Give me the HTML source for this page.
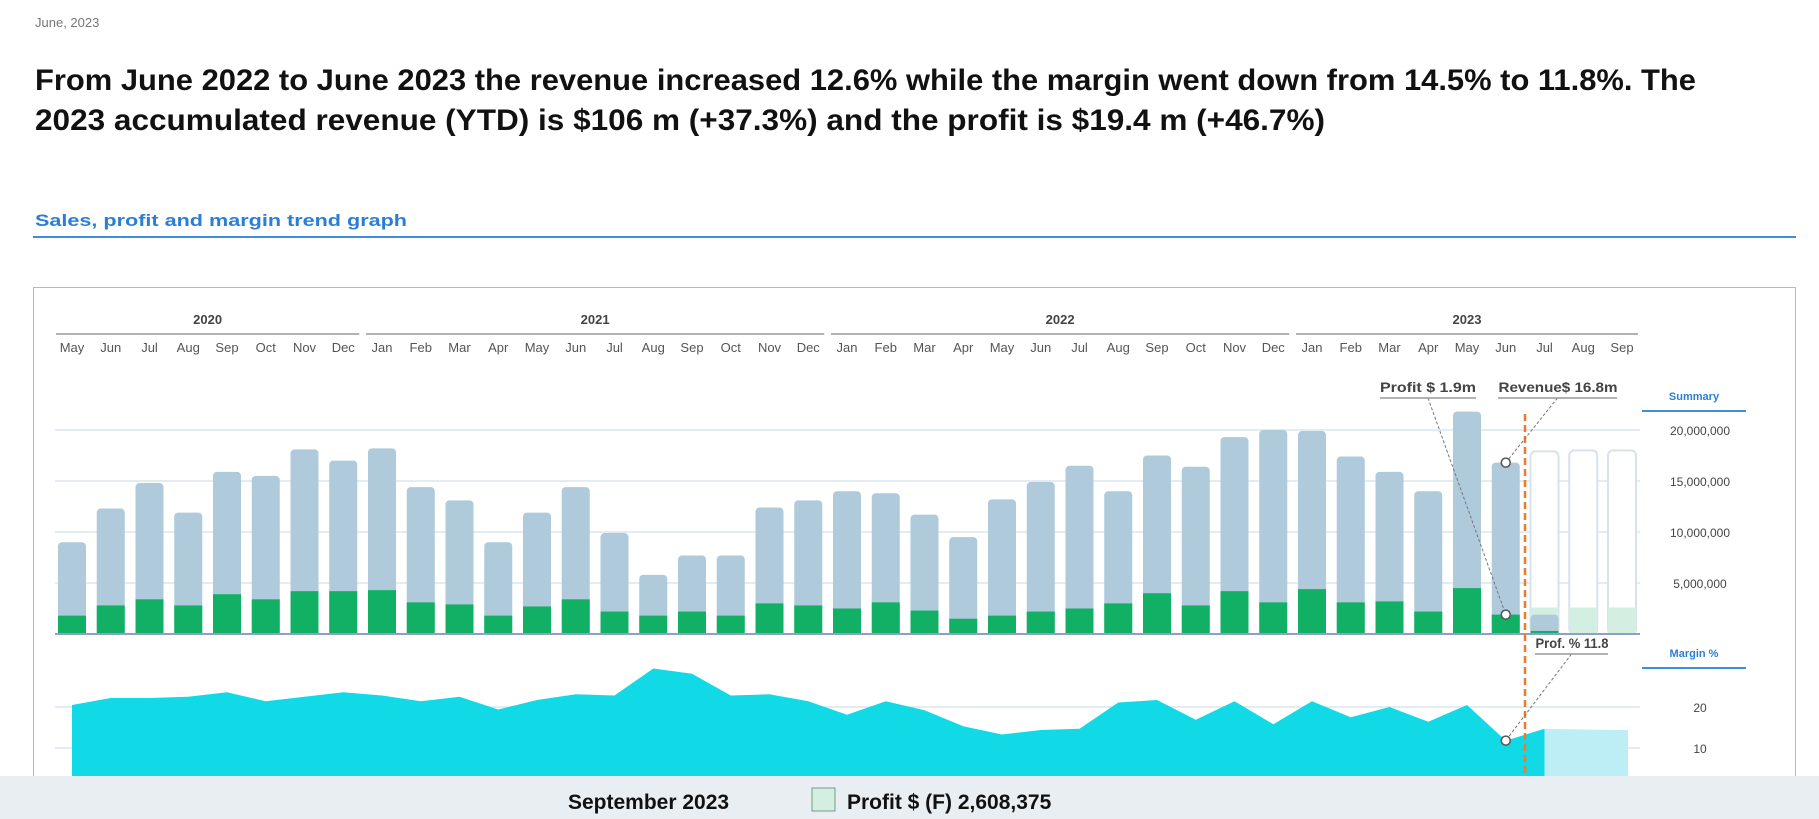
<!DOCTYPE html>
<html><head><meta charset="utf-8"><style>
html,body{margin:0;padding:0;background:#fff;width:1819px;height:819px;overflow:hidden}
svg{display:block;font-family:"Liberation Sans",sans-serif}
</style></head><body>
<svg id="c" width="1819" height="819" viewBox="0 0 1819 819">
<text x="35" y="27" font-size="13" fill="#777">June, 2023</text>
<text x="35" y="90" font-size="30" font-weight="bold" fill="#111" textLength="1661" lengthAdjust="spacingAndGlyphs">From June 2022 to June 2023 the revenue increased 12.6% while the margin went down from 14.5% to 11.8%. The</text>
<text x="35" y="130" font-size="30" font-weight="bold" fill="#111" textLength="1290" lengthAdjust="spacingAndGlyphs">2023 accumulated revenue (YTD) is $106 m (+37.3%) and the profit is $19.4 m (+46.7%)</text>
<text x="35" y="226" font-size="17" font-weight="bold" fill="#2a7fd4" textLength="372" lengthAdjust="spacingAndGlyphs">Sales, profit and margin trend graph</text>
<line x1="33" y1="237" x2="1796" y2="237" stroke="#3d8fdc" stroke-width="2"/>
<rect x="33.5" y="287.5" width="1762" height="540" fill="none" stroke="#9ac0e0"/>
<g id="g"></g>
<rect x="0" y="776" width="1819" height="43" fill="#e9eef2"/>
<text x="568" y="809" font-size="21" font-weight="bold" fill="#111">September 2023</text>
<rect x="812" y="788" width="23" height="23" fill="#d3efe2" stroke="#7a9a8a"/>
<text x="847" y="809" font-size="21" font-weight="bold" fill="#111">Profit $ (F) 2,608,375</text>
</svg>
<script>
const months=["May","Jun","Jul","Aug","Sep","Oct","Nov","Dec","Jan","Feb","Mar","Apr","May","Jun","Jul","Aug","Sep","Oct","Nov","Dec","Jan","Feb","Mar","Apr","May","Jun","Jul","Aug","Sep","Oct","Nov","Dec","Jan","Feb","Mar","Apr","May","Jun","Jul","Aug","Sep"];
const years=["2020","2021","2022","2023"];
const yearStart=[0,8,20,32];
const yearEnd=[7,19,31,40];
const revenue=[9.0,12.3,14.8,11.9,15.9,15.5,18.1,17.0,18.2,14.4,13.1,9.0,11.9,14.4,9.9,5.8,7.7,7.7,12.4,13.1,14.0,13.8,11.7,9.5,13.2,14.9,16.5,14.0,17.5,16.4,19.3,20.0,19.9,17.4,15.9,14.0,21.8,16.8,1.9];
const profit=[1.8,2.8,3.4,2.8,3.9,3.4,4.2,4.2,4.3,3.1,2.9,1.8,2.7,3.4,2.2,1.8,2.2,1.8,3.0,2.8,2.5,3.1,2.3,1.5,1.8,2.2,2.5,3.0,4.0,2.8,4.2,3.1,4.4,3.1,3.2,2.2,4.5,1.9,0.3];
const fcRevenue=[17.9,18.0,18.0];
const fcProfit=[2.6,2.6,2.6];
const margin=[20.5,22.2,22.2,22.5,23.6,21.4,22.5,23.6,22.8,21.4,22.5,19.4,21.7,23.1,22.8,29.4,28.1,22.8,23.1,21.4,18.1,21.4,19.2,15.3,13.3,14.4,14.7,21.1,21.7,16.9,21.4,15.8,21.4,17.5,20.0,16.4,20.5,11.8,14.7];
const fcMargin=[14.7,14.5,14.4];
const revTicks=[5,10,15,20];
const revTickLabels=["5,000,000","10,000,000","15,000,000","20,000,000"];
const marTicks=[10,20];

const NS="http://www.w3.org/2000/svg",G=document.getElementById('g');
function el(t,a,txt){const e=document.createElementNS(NS,t);for(const k in a)e.setAttribute(k,a[k]);if(txt!=null)e.textContent=txt;G.appendChild(e);return e;}
const x=i=>72+i*38.75;
const yR=v=>634-v*10.2;
const yM=v=>789-v*4.1;
const bw=28;

// year headers
years.forEach((y,k)=>{
  const t=el('text',{x:(x(yearStart[k])+x(yearEnd[k]))/2,y:324,'font-size':13,'font-weight':'bold','text-anchor':'middle',fill:'#444'},y);
  
  
  const l=el('line',{x1:x(yearStart[k])-16,x2:x(yearEnd[k])+16,y1:334,y2:334,stroke:'#999','stroke-width':1.5});
  
  
});
months.forEach((m,i)=>{
  const t=el('text',{x:x(i),y:352,'font-size':13,'text-anchor':'middle',fill:'#555'},m);
  
  
});
// revenue grid + ticks
revTicks.forEach((v,k)=>{
  const l=el('line',{x1:55,x2:1640,y1:yR(v),y2:yR(v),stroke:'#dbe5ef','stroke-width':1.5});
  
  
  const t=el('text',{x:1700,y:yR(v)+5,'font-size':12,'text-anchor':'middle',fill:'#444'},revTickLabels[k]);
  
  
});
// forecast bars
fcRevenue.forEach((v,k)=>{
  const i=38+k;
  const r=el('rect',{x:x(i)-bw/2,y:yR(v),width:bw,height:yR(0)-yR(v),rx:5,fill:'#fff',stroke:'#d6e3ec','stroke-width':2});
  
  
  const p=el('rect',{x:x(i)-bw/2,y:yR(fcProfit[k]),width:bw,height:yR(0)-yR(fcProfit[k]),fill:'#d3efe2'});
  
  
});
revenue.forEach((v,i)=>{
  const r=el('rect',{x:x(i)-bw/2,y:yR(v),width:bw,height:yR(0)-yR(v),rx:4,fill:'#aecadb'});
  
  
  const p=el('rect',{x:x(i)-bw/2,y:yR(profit[i]),width:bw,height:yR(0)-yR(profit[i]),fill:'#12b065'});
  
  
});
const base=el('line',{x1:55,x2:1640,y1:634,y2:634,stroke:'#8fa0c8','stroke-width':2});


// margin grid
marTicks.forEach(v=>{
  const l=el('line',{x1:55,x2:1640,y1:yM(v),y2:yM(v),stroke:'#dbe5ef','stroke-width':1.5});
  
  
  const t=el('text',{x:1700,y:yM(v)+5,'font-size':12,'text-anchor':'middle',fill:'#444'},String(v));
  
  
});
// forecast margin area
let fd='M'+x(38)+','+yM(margin[38]);
fcMargin.forEach((v,k)=>{fd+=' L'+(k==2?x(40)+6:x(38+k))+','+yM(v);});
fd+=' L'+(x(40)+6)+',790 L'+x(38)+',790 Z';
const fa=el('path',{d:fd,fill:'#bdeef5'});


let d='M'+x(0)+',790';
margin.forEach((v,i)=>{d+=' L'+x(i)+','+yM(v);});
d+=' L'+x(margin.length-1)+',790 Z';
const ma=el('path',{d:d,fill:'#12d9e6'});


// right panel headers
[['Summary',400,411,'summary-header'],['Margin %',657,668,'margin-header']].forEach(h=>{
  const t=el('text',{x:1694,y:h[1],'font-size':11,'font-weight':'bold','text-anchor':'middle',fill:'#2a7fd4'},h[0]);
  
  
  const l=el('line',{x1:1642,x2:1746,y1:h[2],y2:h[2],stroke:'#3d8fdc','stroke-width':2});
  
  
});
// current month marker
const cm=el('line',{x1:1525,x2:1525,y1:414,y2:776,stroke:'#f07a2a','stroke-width':2.5,'stroke-dasharray':'7,4'});


// annotations
const J=37;
const ann=[
 ['Profit $ 1.9m',1428,392,1380,1476,yR(profit[J]),'profit-annotation'],
 ['Revenue$ 16.8m',1558,392,1498,1617,yR(revenue[J]),'revenue-annotation'],
 ['Prof. % 11.8',1572,648,1535,1608,yM(margin[J]),'margin-annotation']];
ann.forEach(a=>{
  const ln=el('line',{x1:(a[3]+a[4])/2,y1:a[2]+6,x2:x(J),y2:a[5],stroke:'#777','stroke-width':1,'stroke-dasharray':'3,2'});
  
  
  const t=el('text',{x:a[1],y:a[2],'font-size':14,'font-weight':'bold','text-anchor':'middle',fill:'#444',textLength:a[4]-a[3],lengthAdjust:'spacingAndGlyphs'},a[0]);
  
  
  const u=el('line',{x1:a[3],x2:a[4],y1:a[2]+6,y2:a[2]+6,stroke:'#999','stroke-width':1.5});
  
  
  const c=el('circle',{cx:x(J),cy:a[5],r:4.5,fill:'#fff',stroke:'#555','stroke-width':1.5});
  
  
});
</script>
</body></html>
